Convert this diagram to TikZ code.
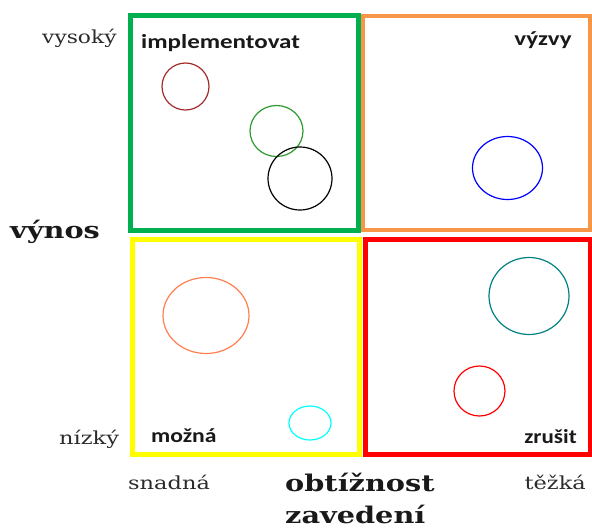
\documentclass[tikz,border=0pt]{standalone}
\usepackage{fontspec}
\setmainfont{DejaVu Serif}
\newfontfamily\labelfont{Carlito}
\usetikzlibrary{shapes.geometric}

\definecolor{qgreen}{HTML}{00B050}
\definecolor{qorange}{HTML}{F79646}
\definecolor{qyellow}{HTML}{FFFF00}
\definecolor{qred}{HTML}{FF0000}
\definecolor{axistext}{HTML}{2B2B2B}
\definecolor{itemBrown}{HTML}{A52A2A}
\definecolor{itemGreen}{HTML}{2E9A2E}
\definecolor{itemBlue}{HTML}{0000FF}
\definecolor{itemCoral}{HTML}{FF7F50}
\definecolor{itemCyan}{HTML}{00FFFF}
\definecolor{itemTeal}{HTML}{008080}
\definecolor{itemRed}{HTML}{FF0000}

% all texts are set a little wider than the fonts' natural widths
\newcommand{\widetext}[1]{\scalebox{1.25}[1]{#1}}

\tikzset{
  quadrant/.style={draw, line width=5pt, inner sep=0pt, outer sep=0pt, anchor=north west},
  item/.style={draw, ellipse, line width=1.2pt, inner sep=0pt},
  axislabel/.style={font=\fontsize{18}{18}\selectfont, text=axistext, inner sep=0pt},
  axistitle/.style={font=\fontsize{23}{23}\selectfont\bfseries, text=black!90, inner sep=0pt},
  quadlabel/.style={font=\labelfont\fontsize{20}{20}\selectfont\bfseries, text=black!90, inner sep=0pt},
}

\begin{document}
\begin{tikzpicture}[x=1pt, y=-1pt]
  \useasboundingbox (0,0) rectangle (592,531);

  % quadrant frames (corners given on the line centres)
  \node[quadrant, draw=qgreen,  minimum width=228pt, minimum height=215pt] (hiEasy) at (130.5,15.5) {};
  \node[quadrant, draw=qorange, line width=4pt, minimum width=227.5pt, minimum height=214.5pt] (hiHard) at (362.5,15.5) {};
  \node[quadrant, draw=qyellow, minimum width=227pt, minimum height=215.5pt] (loEasy) at (132.5,239) {};
  \node[quadrant, draw=qred,    minimum width=225pt, minimum height=215pt] (loHard) at (365,239) {};

  % quadrant names
  \node[quadlabel, anchor=base west] (implement) at (141,48) {\widetext{implementovat}};
  \node[quadlabel, anchor=base east] (challenge) at (572,45.5) {\widetext{výzvy}};
  \node[quadlabel, anchor=base west] (possible) at (151,442) {\scalebox{1.18}[1]{možná}};
  \node[quadlabel, anchor=base east] (cancel) at (577,443) {\scalebox{1.15}[1]{zrušit}};

  % items
  \node[item, draw=itemBrown, minimum width=47pt, minimum height=47pt] (c1) at (185.5,86.5) {};
  \node[item, draw=itemGreen, minimum width=53pt, minimum height=51pt] (c2) at (276.5,131) {};
  \node[item, draw=black, minimum width=64pt, minimum height=63pt] (c3) at (300,178.5) {};
  \node[item, draw=itemBlue, minimum width=70pt, minimum height=63pt] (c4) at (507.5,168) {};
  \node[item, draw=itemCoral, minimum width=86pt, minimum height=76pt] (c5) at (206,315.5) {};
  \node[item, draw=itemCyan, minimum width=42pt, minimum height=34pt] (c6) at (310,423) {};
  \node[item, draw=itemTeal, minimum width=80pt, minimum height=77pt] (c7) at (529,296) {};
  \node[item, draw=itemRed, minimum width=51pt, minimum height=50pt] (c8) at (479.5,391) {};

  % axes
  \node[axislabel, anchor=base west] (high) at (42,43) {\scalebox{1.21}[1]{vysoký}};
  \node[axislabel, anchor=base west] (low) at (59,444) {\widetext{nízký}};
  \node[axistitle, anchor=base west] (yield) at (10,238) {\widetext{výnos}};
  \node[axislabel, anchor=base west] (easy) at (128,489) {\widetext{snadná}};
  \node[axislabel, anchor=base east] (hard) at (586,489) {\widetext{těžká}};
  \node[axistitle, anchor=base west] (diff1) at (285,491) {\widetext{obtížnost}};
  \node[axistitle, anchor=base west] (diff2) at (285,523.5) {\widetext{zavedení}};
\end{tikzpicture}
\end{document}
